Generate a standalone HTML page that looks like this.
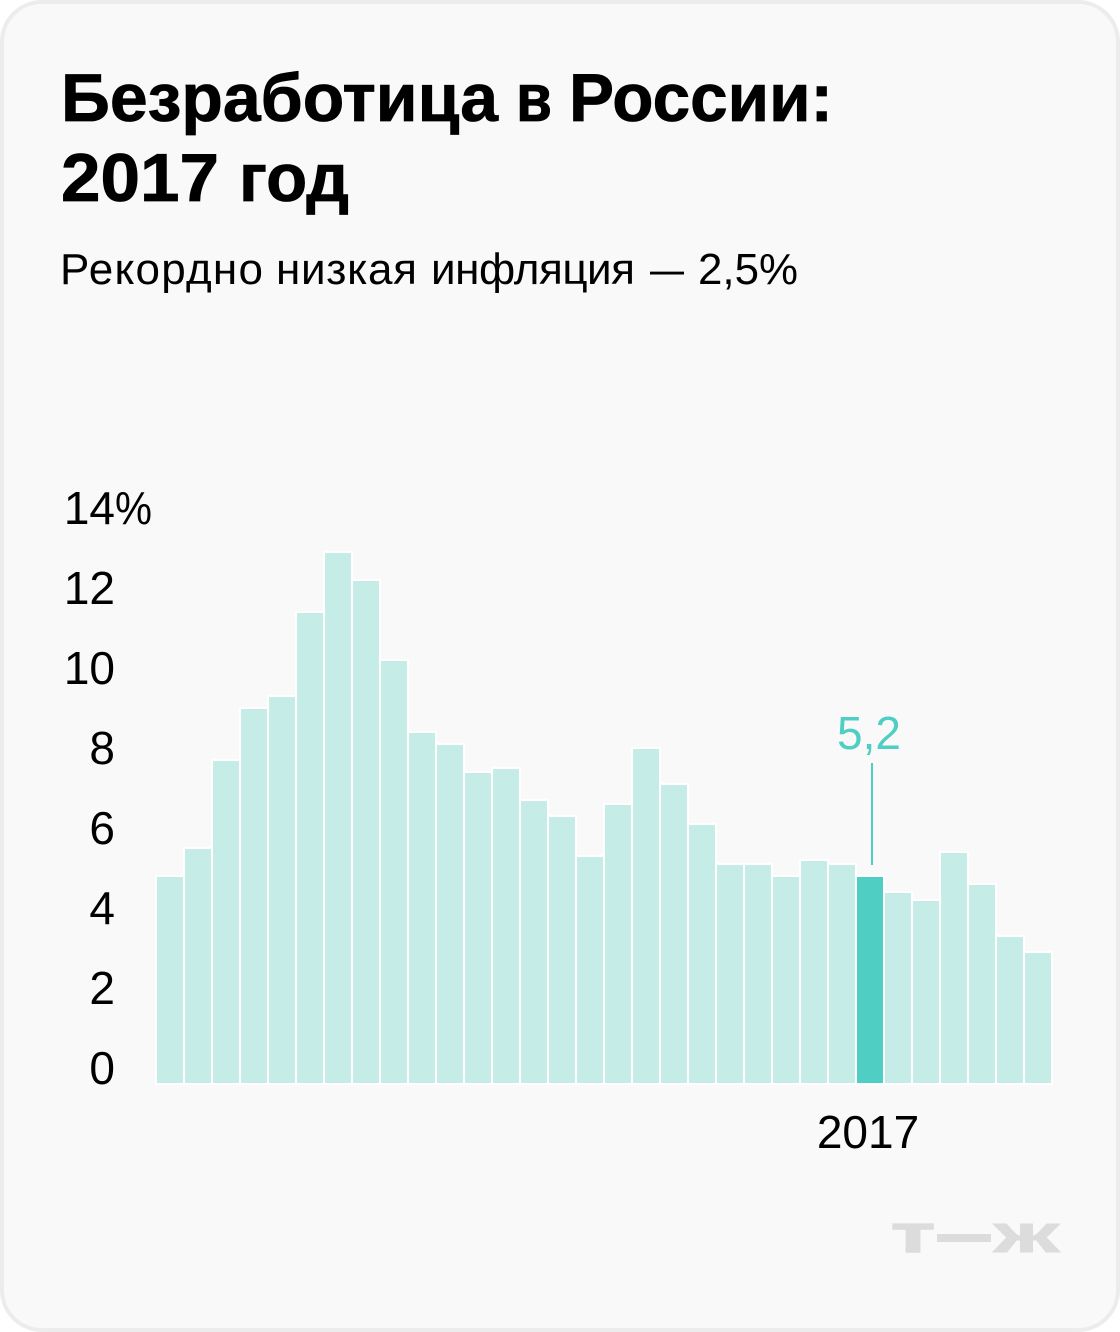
<!DOCTYPE html>
<html lang="ru">
<head>
<meta charset="utf-8">
<title>Безработица в России: 2017 год</title>
<style>
  html, body { margin: 0; padding: 0; background: #fff; }
  body { width: 1120px; height: 1332px; overflow: hidden; }
  svg { display: block; font-family: "Liberation Sans", "DejaVu Sans", sans-serif; }
</style>
</head>
<body>
<svg id="chart" xmlns="http://www.w3.org/2000/svg" width="1120" height="1332" viewBox="0 0 1120 1332">
  <rect x="2" y="2" width="1116" height="1328" rx="40" ry="40" fill="#f9f9f9" stroke="#ececec" stroke-width="4"/>
  <text y="121" font-size="68" font-weight="700" fill="#000" stroke="#000" stroke-width="0.8"><tspan x="61" textLength="437" lengthAdjust="spacingAndGlyphs">Безработица</tspan> <tspan x="516" textLength="36" lengthAdjust="spacingAndGlyphs">в</tspan> <tspan x="569" textLength="264" lengthAdjust="spacingAndGlyphs">России:</tspan></text>
  <text y="201" font-size="68" font-weight="700" fill="#000" stroke="#000" stroke-width="0.8"><tspan x="61" textLength="158" lengthAdjust="spacingAndGlyphs">2017</tspan> <tspan x="239" textLength="110" lengthAdjust="spacingAndGlyphs">год</tspan></text>
  <text y="284" font-size="44" fill="#000"><tspan x="60" textLength="203" lengthAdjust="spacing">Рекордно</tspan> <tspan x="276" textLength="141" lengthAdjust="spacing">низкая</tspan> <tspan x="431" textLength="204" lengthAdjust="spacing">инфляция</tspan> <tspan x="650" textLength="34" lengthAdjust="spacingAndGlyphs">—</tspan> <tspan x="698" textLength="100" lengthAdjust="spacingAndGlyphs">2,5%</tspan></text>
  <g id="y-axis"></g>
  <g id="bars"></g>
  <g id="annotation"></g>
  <text x="868" y="1148" font-size="46" fill="#000" text-anchor="middle">2017</text>
  <g fill="#dcdcdc">
    <text x="891" y="1252" font-size="53" font-weight="700" stroke="#dcdcdc" stroke-width="1.5" textLength="44" lengthAdjust="spacingAndGlyphs">т</text>
    <rect x="937" y="1234" width="54" height="8"/>
    <text x="994" y="1252" font-size="53" font-weight="700" stroke="#dcdcdc" stroke-width="1" textLength="65" lengthAdjust="spacingAndGlyphs">ж</text>
  </g>
</svg>
<script>
const years = [1992, 1993, 1994, 1995, 1996, 1997, 1998, 1999, 2000, 2001, 2002, 2003, 2004, 2005, 2006, 2007, 2008, 2009, 2010, 2011, 2012, 2013, 2014, 2015, 2016, 2017, 2018, 2019, 2020, 2021, 2022, 2023];
const unemployment = [5.2, 5.9, 8.1, 9.4, 9.7, 11.8, 13.3, 12.6, 10.6, 8.8, 8.5, 7.8, 7.9, 7.1, 6.7, 5.7, 7.0, 8.4, 7.5, 6.5, 5.5, 5.5, 5.2, 5.6, 5.5, 5.2, 4.8, 4.6, 5.8, 5.0, 3.7, 3.3];
const yTicks = [0, 2, 4, 6, 8, 10, 12, 14];
const highlightYear = 2017;

const SVG_NS = 'http://www.w3.org/2000/svg';
function xScale(i) { return 156 + 28 * i; }
function yScale(v) { return 1084 - 40 * v; }

const yAxisGroup = document.getElementById('y-axis');
yTicks.forEach(function (tick, idx) {
  const label = document.createElementNS(SVG_NS, 'text');
  
  
  label.setAttribute('x', 115);
  label.setAttribute('y', yScale(tick));
  label.setAttribute('font-size', 46);
  label.setAttribute('fill', '#000');
  label.setAttribute('text-anchor', 'end');
  label.textContent = String(tick);
  yAxisGroup.appendChild(label);
  if (idx === yTicks.length - 1) {
    const pct = document.createElementNS(SVG_NS, 'text');
    
    
    pct.setAttribute('x', 115);
    pct.setAttribute('y', yScale(tick));
    pct.setAttribute('font-size', 46);
    pct.setAttribute('fill', '#000');
    pct.setAttribute('textLength', 37);
    pct.setAttribute('lengthAdjust', 'spacingAndGlyphs');
    pct.textContent = '%';
    yAxisGroup.appendChild(pct);
  }
});

const barsGroup = document.getElementById('bars');
unemployment.forEach(function (value, i) {
  const bar = document.createElementNS(SVG_NS, 'rect');
  
  
  bar.setAttribute('x', xScale(i));
  bar.setAttribute('y', yScale(value));
  bar.setAttribute('width', 28);
  bar.setAttribute('height', yScale(0) - yScale(value));
  bar.setAttribute('fill', years[i] === highlightYear ? '#4fcec4' : '#c6ece8');
  bar.setAttribute('stroke', '#ffffff');
  bar.setAttribute('stroke-width', 2);
  barsGroup.appendChild(bar);
});

const annotationGroup = document.getElementById('annotation');
const hIndex = years.indexOf(highlightYear);
const hValue = unemployment[hIndex];

const leader = document.createElementNS(SVG_NS, 'line');


leader.setAttribute('x1', xScale(hIndex) + 16);
leader.setAttribute('x2', xScale(hIndex) + 16);
leader.setAttribute('y1', yScale(hValue) - 113);
leader.setAttribute('y2', yScale(hValue) - 11);
leader.setAttribute('stroke', '#4fcec4');
leader.setAttribute('stroke-width', 2);
annotationGroup.appendChild(leader);

const valueLabel = document.createElementNS(SVG_NS, 'text');


valueLabel.setAttribute('x', xScale(hIndex) + 13);
valueLabel.setAttribute('y', yScale(hValue) - 127);
valueLabel.setAttribute('font-size', 46);
valueLabel.setAttribute('fill', '#4fcec4');
valueLabel.setAttribute('text-anchor', 'middle');
valueLabel.textContent = String(hValue).replace('.', ',');
annotationGroup.appendChild(valueLabel);
</script>
</body>
</html>
